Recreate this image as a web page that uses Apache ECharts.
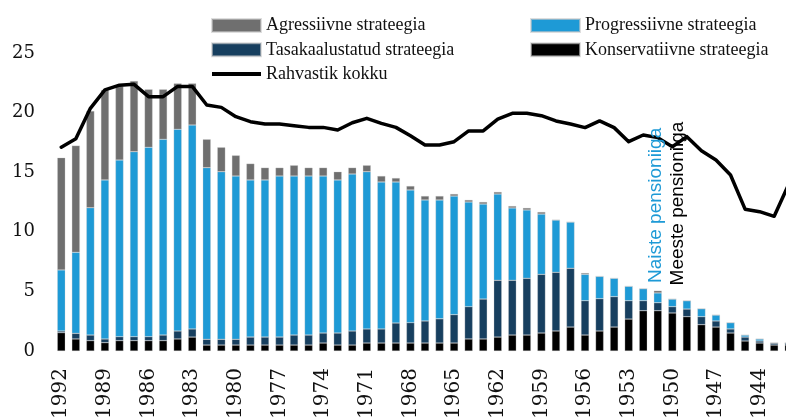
<!DOCTYPE html>
<html><head><meta charset="utf-8">
<script src="https://cdn.jsdelivr.net/npm/echarts@6/dist/echarts.min.js"></script>
<style>html,body{margin:0;padding:0;background:#fff}#c{width:786px;height:418px}</style>
</head><body><div id="c"></div>
<script>
const years = ['1992','1991','1990','1989','1988','1987','1986','1985','1984','1983','1982','1981','1980','1979','1978','1977','1976','1975','1974','1973','1972','1971','1970','1969','1968','1967','1966','1965','1964','1963','1962','1961','1960','1959','1958','1957','1956','1955','1954','1953','1952','1951','1950','1949','1948','1947','1946','1945','1944','1943','1942'];
const konservatiivne = [1.54,1.01,0.87,0.70,0.87,0.87,0.87,0.87,1.01,1.17,0.50,0.50,0.50,0.50,0.50,0.50,0.50,0.50,0.67,0.50,0.50,0.67,0.67,0.67,0.67,0.67,0.67,0.67,1.01,1.01,1.17,1.34,1.34,1.51,1.68,2.01,1.34,1.68,2.01,2.68,3.38,3.38,3.19,2.88,2.21,2.01,1.51,0.84,0.67,0.50,0.50];
const tasakaalustatud = [0.14,0.47,0.47,0.31,0.33,0.33,0.33,0.47,0.67,0.68,0.48,0.48,0.48,0.67,0.67,0.67,0.84,0.84,0.84,1.01,1.18,1.18,1.18,1.68,1.71,1.85,2.03,2.38,2.71,3.35,4.76,4.59,4.76,4.92,4.92,4.93,2.88,2.71,2.55,1.54,0.84,0.67,0.53,0.64,0.67,0.51,0.34,0.33,0.17,0.17,0.17];
const progressiivne = [5.12,6.80,10.68,13.34,14.82,15.52,15.89,16.42,16.92,17.11,14.40,14.06,13.70,13.18,13.18,13.51,13.34,13.34,13.17,12.84,13.17,13.19,12.33,11.83,11.13,10.15,9.97,9.95,8.78,7.97,7.24,6.07,5.73,5.06,4.39,3.88,2.21,1.87,1.54,1.21,1.01,0.82,0.64,0.70,0.67,0.50,0.53,0.17,0.17,0,0];
const agressiivne = [9.42,8.95,8.11,7.55,6.18,5.93,4.86,4.19,3.85,3.49,2.38,2.05,1.73,1.37,1.03,0.70,0.90,0.70,0.70,0.69,0.53,0.54,0.50,0.33,0.33,0.33,0.33,0.17,0.17,0.17,0.17,0.16,0.17,0.17,0,0,0.11,0,0,0,0,0.19,0,0,0,0,0,0,0,0,0];
const rahvastik = [17.1,17.8,20.36,21.9,22.3,22.37,21.34,21.34,22.2,22.2,20.64,20.44,19.66,19.24,19.04,19.04,18.9,18.76,18.76,18.54,19.15,19.52,19.1,18.76,18.06,17.28,17.28,17.56,18.46,18.46,19.46,19.94,19.94,19.74,19.3,19.04,18.74,19.3,18.74,17.56,18.12,17.9,17.14,17.98,16.8,16.02,14.77,11.9,11.69,11.3,14.0];
const yTicks = [0,5,10,15,20,25];
const annotations = [
  {text:'Naiste pensioniiga', year:'1951', value:5.7, color:'#1e9ad6', dx:-2},
  {text:'Meeste pensioniiga', year:'1950', value:5.5, color:'#000000', dx:5}
];

const C = {agr:'#6f6f6f', prog:'#1e9ad6', tasa:'#173f5f', kons:'#000000'};
const serif = '"Liberation Serif", serif';
const dserif = '"DejaVu Serif", serif';
const chart = echarts.init(document.getElementById('c'), null, {renderer:'canvas'});
const barBase = {type:'bar', stack:'s', barWidth:8, animation:false,
  itemStyle:{borderColor:'rgba(200,200,200,0.6)', borderWidth:0.5}};
const legendText = {fontFamily:serif, fontSize:18, color:'#111', lineHeight:18};
chart.setOption({
  animation:false,
  backgroundColor:'#fff',
  grid:{left:54, right:-10, top:53, bottom:67, containLabel:false, outerBoundsMode:'none'},
  legend:[
    {orient:'vertical', left:206, top:11.5, itemWidth:49, itemHeight:13, itemGap:6.3,
     textStyle:legendText,
     data:[{name:'Agressiivne strateegia', icon:'rect'},{name:'Tasakaalustatud strateegia', icon:'rect'},
           {name:'Rahvastik kokku', icon:'path://M0,0h49v4h-49z'}]},
    {orient:'vertical', left:525, top:11.5, itemWidth:49, itemHeight:13, itemGap:6.3,
     textStyle:legendText,
     data:[{name:'Progressiivne strateegia', icon:'rect'},{name:'Konservatiivne strateegia', icon:'rect'}]}
  ],
  xAxis:{type:'category', data:years, boundaryGap:true,
    axisLine:{show:false}, axisTick:{show:false}, splitLine:{show:false},
    axisLabel:{rotate:90, interval:2, margin:17, fontFamily:dserif, fontSize:20, color:'#111'}},
  yAxis:{type:'value', min:yTicks[0], max:yTicks[yTicks.length-1], interval:5,
    axisLine:{show:false}, axisTick:{show:false}, splitLine:{show:false},
    axisLabel:{margin:19, fontFamily:dserif, fontSize:18, color:'#111'}},
  series:[
    Object.assign({}, barBase, {name:'Konservatiivne strateegia', data:konservatiivne, itemStyle:Object.assign({}, barBase.itemStyle, {color:C.kons})}),
    Object.assign({}, barBase, {name:'Tasakaalustatud strateegia', data:tasakaalustatud, itemStyle:Object.assign({}, barBase.itemStyle, {color:C.tasa})}),
    Object.assign({}, barBase, {name:'Progressiivne strateegia', data:progressiivne, itemStyle:Object.assign({}, barBase.itemStyle, {color:C.prog})}),
    Object.assign({}, barBase, {name:'Agressiivne strateegia', data:agressiivne, itemStyle:Object.assign({}, barBase.itemStyle, {color:C.agr})}),
    {type:'line', name:'Rahvastik kokku', data:rahvastik, symbol:'none', showSymbol:false, z:5,
     itemStyle:{color:'#000'}, lineStyle:{color:'#000', width:3.5, cap:'round', join:'round'}}
  ]
});
const g = annotations.map(a => {
  const p = chart.convertToPixel({gridIndex:0}, [a.year, a.value]);
  return {type:'text', x:p[0]+a.dx, y:p[1], rotation:Math.PI/2, z:10,
    style:{text:a.text, fill:a.color, fontFamily:'"Liberation Sans", Arial, sans-serif', fontSize:19,
           align:'left', verticalAlign:'middle'}};
});
chart.setOption({graphic:g});
</script></body></html>
